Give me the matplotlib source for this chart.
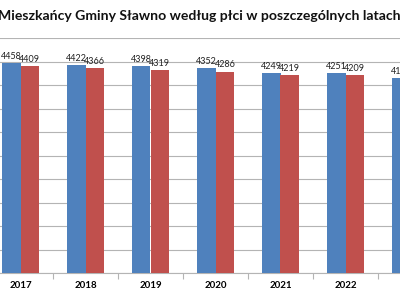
import numpy as np
import matplotlib.pyplot as plt

# Mieszkancy gminy wg plci (kobiety / mezczyzni)
years = ["2017", "2018", "2019", "2020", "2021", "2022", "2023"]
women = [4458, 4422, 4398, 4352, 4249, 4251, 4143]
men = [4409, 4366, 4319, 4286, 4219, 4209, 4110]

title = "Mieszkańcy Gminy Sławno według płci w poszczególnych latach"

blue = "#4F81BD"
red = "#C0504D"
grid_col = "#b4b4b4"

fig = plt.figure(figsize=(4, 3), dpi=100)
ax = fig.add_axes([0, 27 / 300, 1, 235 / 300])

x = np.arange(len(years))
w = 0.29
b1 = ax.bar(x - w / 2, women, w, color=blue, zorder=3)
b2 = ax.bar(x + w / 2, men, w, color=red, zorder=3)

for bars in (b1, b2):
    for ann in ax.bar_label(bars, padding=1.5, fontsize=6.5, family="Lato",
                            color="#222222"):
        ann.set_annotation_clip(False)

ax.set_yticks(np.arange(0, 5001, 500))
ax.yaxis.grid(True, color=grid_col, linewidth=0.8, zorder=0)
ax.tick_params(axis="y", left=False, labelleft=False)

# ticks between categories, year labels in the middle
ax.set_xticks(x + 0.5)
ax.set_xticklabels([])
ax.tick_params(axis="x", which="major", length=4, color=grid_col, width=0.8)
ax.set_xticks(x, minor=True)
ax.set_xticklabels(years, minor=True, fontsize=7, fontweight="bold", family="Lato")
ax.tick_params(axis="x", which="minor", length=0, pad=6)

# limits after the ticks, so the chart is cut like the screenshot
ax.set_xlim(-20.5 / 65, (400 - 20.5) / 65)
ax.set_ylim(0, 5000)

for s in ("left", "right", "top"):
    ax.spines[s].set_visible(False)
ax.spines["bottom"].set_color(grid_col)
ax.spines["bottom"].set_linewidth(0.8)

fig.text(-0.005, 1 - 16 / 300, title, fontsize=10.1, fontweight="bold",
         family="Lato", ha="left", va="center", color="#111111")

fig.savefig("out.png", dpi=100)
